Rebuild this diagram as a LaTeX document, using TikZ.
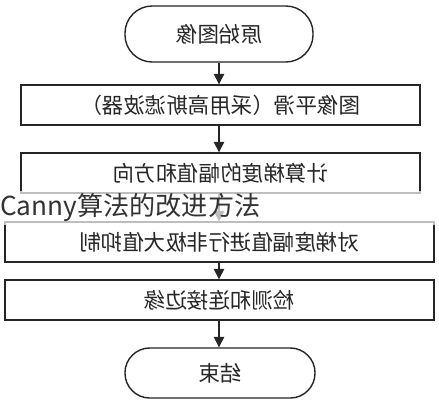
\documentclass[tikz,border=0pt]{standalone}
\usepackage{fontspec}
\usepackage{graphicx}
\newfontfamily\cjk{Noto Sans CJK SC}
\usetikzlibrary{arrows.meta}
\tikzset{
  stepbox/.style={draw=black!85, line width=1pt, minimum height=1cm,
    font=\cjk\fontsize{15.3}{18}\selectfont, text=black!85},
  terminal/.style={stepbox, rounded corners=0.68cm},
  flow/.style={-{Triangle[length=0.26cm,width=0.26cm]}, line width=1pt, draw=black!85}
}
\begin{document}
\begin{tikzpicture}[x=0.025cm, y=-0.025cm, text centered]
    \useasboundingbox (0,0) rectangle (439,400);
    \fill[white] (0,0) rectangle (439,400);

    \begin{scope}
    % boxes (text is printed mirrored)
    \node [terminal, minimum width=4.7cm, minimum height=1.4cm] (start) at (219,34) {\reflectbox{原始图像}};
    \node [stepbox, minimum width=9.975cm] (smooth) at (220.5,105) {\reflectbox{图像平滑（采用高斯滤波器）}};
    \node [stepbox, minimum width=9.975cm] (grad) at (220.5,173) {\reflectbox{计算梯度的幅值和方向}};
    \node [stepbox, minimum width=10.725cm] (nms) at (219.5,242) {\reflectbox{对梯度幅值进行非极大值抑制}};
    \node [stepbox, minimum width=10.725cm] (edges) at (219.5,300) {\reflectbox{检测和连接边缘}};
    \node [terminal, minimum width=4.75cm, minimum height=1.25cm, rounded corners=0.62cm] (stop) at (220,373) {\reflectbox{结束}};

    \draw [flow] (start.south) -- (start.south |- smooth.north);
    \draw [flow] (smooth.south -| start) -- (start |- grad.north);
    \draw [flow] (grad.south -| start) -- (start |- nms.north);
    \draw [flow] (nms.south -| start) -- (start |- edges.north);
    \draw [flow] (edges.south -| start) -- (start |- stop.north);
    \end{scope}

    % caption laid over the chart
    \fill [white, opacity=0.7] (0,191) rectangle (439,225);
    \node [anchor=base west, inner sep=0pt, font=\cjk\fontsize{18.6}{20}\selectfont, text=black!80] (title) at (0,215) {Canny算法的改进方法};
\end{tikzpicture}
\end{document}
